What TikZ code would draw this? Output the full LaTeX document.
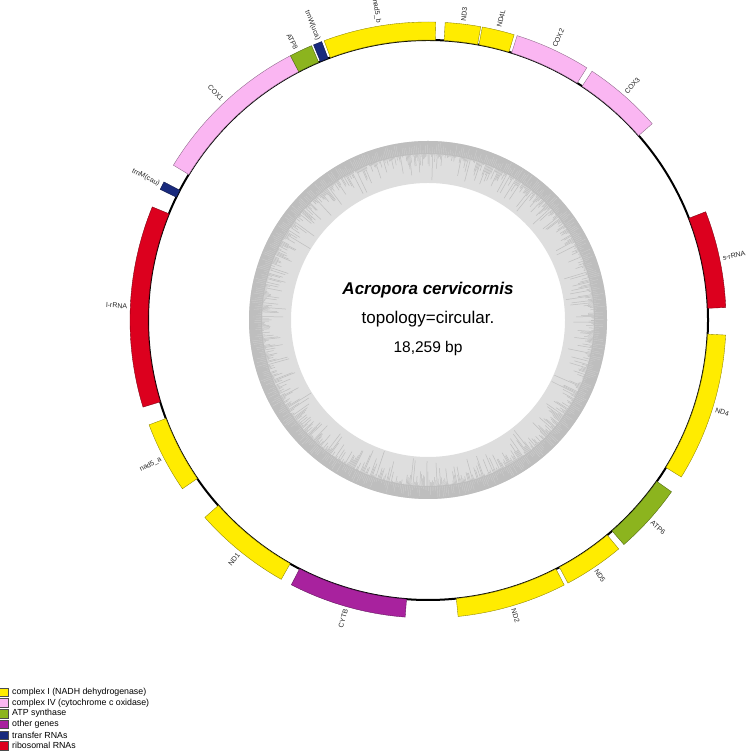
\documentclass[tikz,border=0pt]{standalone}
\usepackage{fontspec}
\setmainfont{Liberation Sans}
\definecolor{cI}{RGB}{255,236,0}
\definecolor{cIV}{RGB}{250,182,242}
\definecolor{atp}{RGB}{140,180,30}
\definecolor{oth}{RGB}{168,34,158}
\definecolor{trna}{RGB}{25,42,125}
\definecolor{rrna}{RGB}{220,0,30}
\definecolor{gclight}{RGB}{222,222,222}
\definecolor{gcdark}{RGB}{190,190,190}
\tikzset{
  genebar/.style={line width=0.35pt, line join=miter},
  glabel/.style={font=\fontsize{7}{8}\selectfont, inner sep=0pt, text=black!85},
  legbox/.style={draw=black!70, line width=0.4pt},
  legtext/.style={font=\fontsize{8.8}{10}\selectfont, inner sep=0pt, anchor=west},
}
\newcommand\genebar[3]{\filldraw[genebar,fill=#3,draw=#3!55!black] (#1:280pt) arc[start angle=#1,end angle=#2,radius=280pt] -- (#2:298pt) arc[start angle=#2,end angle=#1,radius=298pt] -- cycle;}
\newcommand\labR[3]{\node[glabel,anchor=west,rotate=#2] (#1) at (#2:301pt) {#3};}
\newcommand\labL[3]{\node[glabel,anchor=east,rotate=#2-180] (#1) at (#2:301pt) {#3};}
\begin{document}
\begin{tikzpicture}[x=1pt,y=1pt]
\useasboundingbox (0,0) rectangle (746,751);
\begin{scope}[shift={(428,431)}]
  % GC content ring
  \fill[gclight, even odd rule] (0,0) circle[radius=179pt] (0,0) circle[radius=137pt];
  \fill[gcdark, even odd rule] (0,0) circle[radius=179pt] (0,0) circle[radius=166pt];
  \pgfmathsetseed{7}
  \foreach \a in {0,0.4,...,359.8}{
    \pgfmathsetmacro\rr{166.5-30*rnd*rnd}
    \draw[gcdark, line width=0.5pt] (\a:166.5pt) -- (\a:\rr pt);
  }
  \foreach \a in {0.2,0.8,...,359.8}{
    \pgfmathsetmacro\rr{168+10*rnd}
    \draw[gcdark!55!gclight, line width=0.4pt] (\a:167pt) -- (\a:\rr pt);
  }
  % main circle
  \draw[line width=2pt] (0,0) circle[radius=280pt];
  % genes
  \genebar{88.5}{110.4}{cI}
  \genebar{79.8}{86.7}{cI}
  \genebar{73.2}{79.5}{cI}
  \genebar{57.8}{72.6}{cIV}
  \genebar{41.2}{56.6}{cIV}
  \genebar{2.4}{21.3}{rrna}
  \genebar{-31.8}{-2.9}{cI}
  \genebar{-48.9}{-35.2}{atp}
  \genebar{-62.0}{-50.2}{cI}
  \genebar{-84.2}{-62.8}{cI}
  \genebar{-117.3}{-94.4}{oth}
  \genebar{-138.5}{-119.5}{cI}
  \genebar{200.6}{214.5}{cI}
  \genebar{157.7}{197.0}{rrna}
  \genebar{152.4}{154.0}{trna}
  \genebar{117.5}{148.7}{cIV}
  \genebar{113.0}{117.5}{atp}
  \genebar{110.9}{112.6}{trna}
  % labels
  \labL{lnad5b}{99.45}{nad5\_b}
  \labR{lnd3}{83.25}{ND3}
  \labR{lnd4l}{76.35}{ND4L}
  \labR{lcox2}{65.2}{COX2}
  \labR{lcox3}{48.9}{COX3}
  \labR{lsrrna}{11.85}{s-rRNA}
  \labR{lnd4}{-17.35}{ND4}
  \labR{latp6}{-42.05}{ATP6}
  \labR{lnd5}{-56.1}{ND5}
  \labR{lnd2}{-73.5}{ND2}
  \labL{lcytb}{254.15}{CYTB}
  \labL{lnd1}{231}{ND1}
  \labL{lnad5a}{207.55}{nad5\_a}
  \labL{llrrna}{177.35}{l-rRNA}
  \labL{ltrnm}{153.2}{trnM(cau)}
  \labL{lcox1}{133.1}{COX1}
  \labL{latp8}{116.0}{ATP8}
  \labL{ltrnw}{111.4}{trnW(uca)}
  % centre text
  \node[font=\fontsize{17}{20}\selectfont\bfseries\itshape, anchor=base, inner sep=0pt] (title) at (0,25) {Acropora cervicornis};
  \node[font=\fontsize{17}{20}\selectfont, anchor=base, inner sep=0pt] (topo) at (0,-4) {topology=circular.};
  \node[font=\fontsize{15.5}{18}\selectfont, anchor=base, inner sep=0pt] (size) at (0,-33) {18,259 bp};
\end{scope}
% legend
\foreach \c/\t [count=\i from 0] in {cI/complex I (NADH dehydrogenase), cIV/complex IV (cytochrome c oxidase), atp/ATP synthase, oth/other genes, trna/transfer RNAs, rrna/ribosomal RNAs}{
  \pgfmathsetmacro\yy{751-692.3-10.7*\i}
  \filldraw[legbox, fill=\c] (-1,\yy-4.3) rectangle (8,\yy+4.3);
  \node[legtext] (leg\i) at (12,\yy) {\t};
}
\end{tikzpicture}
\end{document}
